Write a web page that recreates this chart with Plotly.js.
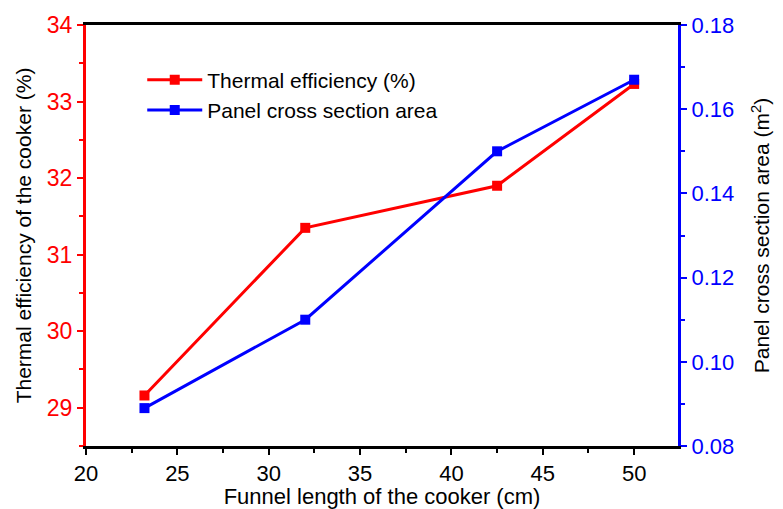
<!DOCTYPE html>
<html>
<head>
<meta charset="utf-8">
<script src="https://cdn.plot.ly/plotly-3.0.1.min.js"></script>
<style>html,body{margin:0;padding:0;background:#fff;}#chart{width:783px;height:509px;}</style>
</head>
<body>
<div id="chart"></div>
<script>
const funnelLength = [23.2, 32, 42.5, 50];
const thermalEfficiency = [29.16, 31.35, 31.9, 33.23];
const panelArea = [0.089, 0.110, 0.150, 0.167];
const seriesNames = ["Thermal efficiency (%)", "Panel cross section area"];

const font = "Liberation Sans, Arial, sans-serif";

const traces = [
  {
    x: funnelLength, y: thermalEfficiency, name: seriesNames[0],
    type: "scatter", mode: "lines+markers",
    line: {color: "#ff0000", width: 3},
    marker: {symbol: "square", size: 10, color: "#ff0000"},
    yaxis: "y"
  },
  {
    x: funnelLength, y: panelArea, name: seriesNames[1],
    type: "scatter", mode: "lines+markers",
    line: {color: "#0000ff", width: 3},
    marker: {symbol: "square", size: 10, color: "#0000ff"},
    yaxis: "y2"
  }
];

const layout = {
  width: 783, height: 509,
  margin: {l: 86, r: 103, t: 25, b: 63},
  paper_bgcolor: "#fff", plot_bgcolor: "#fff",
  font: {family: font, size: 21, color: "#000"},
  showlegend: true,
  legend: {x: 0.095, y: 0.918, xanchor: "left", yanchor: "top", bgcolor: "rgba(0,0,0,0)",
           font: {family: font, size: 21}, tracegroupgap: 0, itemwidth: 55},
  xaxis: {
    range: [20, 52.4], dtick: 5, tick0: 20, automargin: false,
    showgrid: false, zeroline: false,
    showline: true, linecolor: "#000", linewidth: 3, mirror: true,
    ticks: "outside", ticklen: 6, tickwidth: 2, tickcolor: "#000",
    minor: {ticks: "outside", ticklen: 4, dtick: 2.5, tickcolor: "#000", tickwidth: 2, showgrid: false},
    tickfont: {family: font, size: 22, color: "#000"},
    title: {text: "Funnel length of the cooker (cm)", font: {family: font, size: 22, color: "#000"}, standoff: 0}
  },
  yaxis: {
    range: [28.5, 34], dtick: 1, tick0: 29, automargin: true,
    showgrid: false, zeroline: false,
    showline: true, linecolor: "#ff0000", linewidth: 3,
    ticks: "outside", ticklen: 6, tickwidth: 2, tickcolor: "#ff0000",
    minor: {ticks: "outside", ticklen: 4, dtick: 0.5, tickcolor: "#ff0000", tickwidth: 2, showgrid: false},
    tickfont: {family: font, size: 23, color: "#ff0000"},
    title: {text: "Thermal efficiency of the cooker (%)", font: {family: font, size: 21, color: "#000"}, standoff: 10}
  },
  yaxis2: {
    overlaying: "y", side: "right", automargin: true,
    range: [0.08, 0.18], dtick: 0.02, tick0: 0.08, tickformat: ".2f",
    showgrid: false, zeroline: false,
    showline: true, linecolor: "#0000ff", linewidth: 3,
    ticks: "outside", ticklen: 6, tickwidth: 2, tickcolor: "#0000ff",
    minor: {ticks: "outside", ticklen: 4, dtick: 0.01, tickcolor: "#0000ff", tickwidth: 2, showgrid: false},
    tickfont: {family: font, size: 22, color: "#0000ff"},
    title: {text: "Panel cross section area (m<sup>2</sup>)", font: {family: font, size: 21, color: "#000"}, standoff: 22}
  }
};

Plotly.newPlot("chart", traces, layout, {displayModeBar: false, staticPlot: true});
</script>
</body>
</html>
